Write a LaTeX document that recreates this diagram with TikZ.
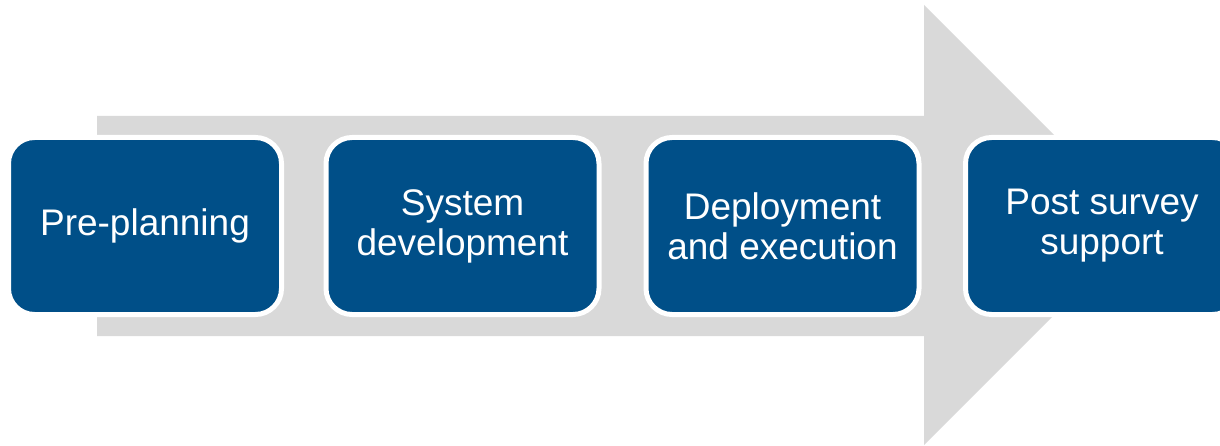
\documentclass[tikz,border=0pt]{standalone}
\usepackage{fontspec}
\setmainfont{Liberation Sans}
\definecolor{stepblue}{HTML}{004F88}
\definecolor{arrowgray}{HTML}{D9D9D9}
\begin{document}
\begin{tikzpicture}[x=1pt,y=1pt,
  stepbox/.style={draw=white, line width=5pt, fill=stepblue, rounded corners=26pt,
    minimum width=273pt, minimum height=177pt, inner sep=0pt,
    text=white, align=center, font=\fontsize{37}{40}\selectfont}]
\useasboundingbox (0,0) rectangle (1220,445);
\clip (0,0) rectangle (1220,445);
\fill[arrowgray] (97,329) -- (924,329) -- (924,440) -- (1144,220) -- (924,0) -- (924,109) -- (97,109) -- cycle;
\node[stepbox] (s1) at (145,219) {Pre-planning};
\node[stepbox] (s2) at (462.5,219) {System\\development};
\node[stepbox] (s3) at (782.5,219) {Deployment\\and execution};
\node[stepbox] (s4) at (1102,219) {Post survey\\support};
\end{tikzpicture}
\end{document}
